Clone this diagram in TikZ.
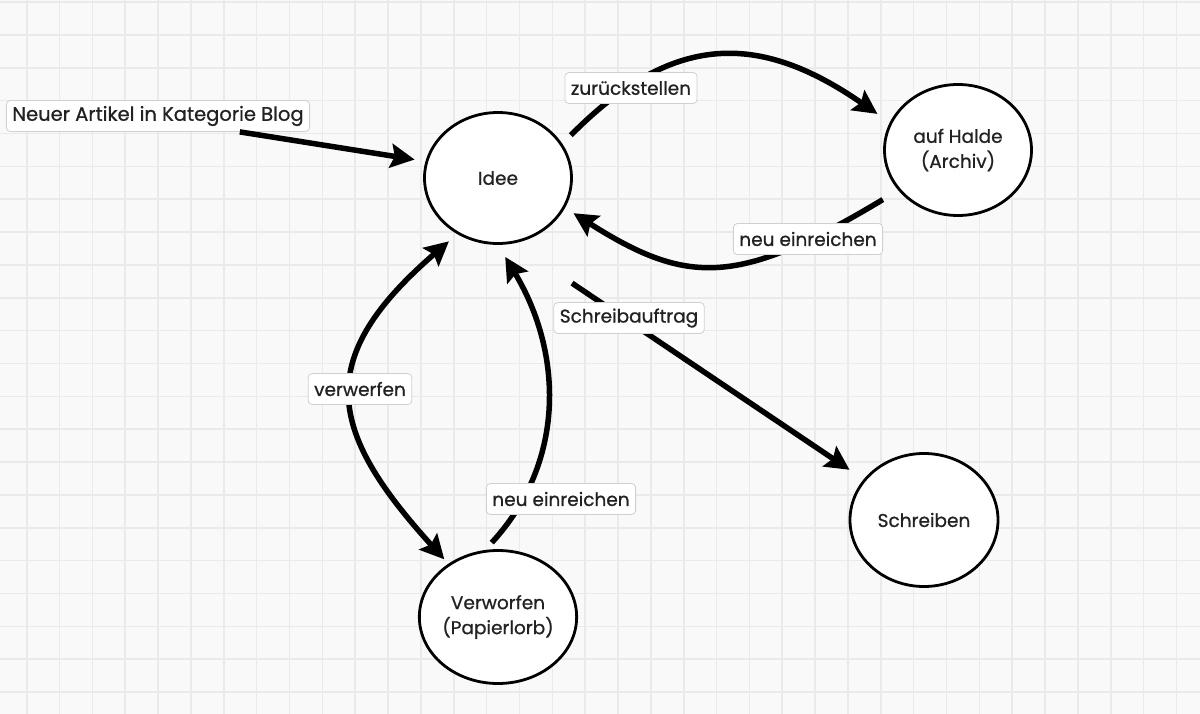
\documentclass[tikz,border=0pt]{standalone}
\usepackage{fontspec}
\setmainfont{Poppins}
\newfontface\lblfont{Poppins}[FakeBold=0.8]
\usetikzlibrary{arrows.meta,shapes.geometric}
\definecolor{bg}{HTML}{F9F9F9}
\definecolor{gridc}{HTML}{EAEAEA}
\definecolor{lblborder}{HTML}{D0D0D0}
\definecolor{txt}{HTML}{222222}
\begin{document}
\begin{tikzpicture}[x=1pt,y=-1pt,
  state/.style={ellipse, draw=black, line width=2.8pt, fill=white,
    minimum width=147pt, minimum height=131pt, inner sep=0pt, align=center,
    font=\lblfont\fontsize{18.5}{25}\selectfont, text=txt},
  lbl/.style={draw=lblborder, line width=0.8pt, fill=white, rounded corners=4pt,
    inner xsep=6pt, inner ysep=0pt, minimum height=31pt,
    font=\lblfont\fontsize{18.5}{22}\selectfont, text=txt},
  tip/.tip={Stealth[length=24pt,width=24pt,inset=4pt]},
  edge/.style={line width=5.5pt, -tip},
  biedge/.style={line width=5.5pt, tip-tip},
]
\useasboundingbox (0,0) rectangle (1200,714);
\fill[bg] (0,0) rectangle (1200,714);
\foreach \i in {0,...,35} \draw[gridc, line width=1.6pt] ({26.7+32.85*\i},0) -- ++(0,714);
\foreach \j in {0,...,21} \draw[gridc, line width=1.6pt] (0,{2.15+32.85*\j}) -- ++(1200,0);

\node[state] (idee) at (498,178) {Idee};
\node[state] (halde) at (958,150) {auf Halde\\(Archiv)};
\node[state, minimum width=148pt, minimum height=133pt] (verw) at (498,617) {Verworfen\\(Papierlorb)};
\node[state, minimum width=148pt, minimum height=133pt] (schreib) at (924,520) {Schreiben};
\node[lbl, font=\lblfont\fontsize{19.5}{22}\selectfont] (neu) at (158,116) {Neuer Artikel in Kategorie Blog};

\draw[edge, shorten >=11pt] (neu.-11.4) -- (idee.167);
\draw[edge, shorten <=12pt, shorten >=15pt] (idee.28) .. controls (673,32) and (759,32) .. (halde.158);
\draw[edge, shorten <=18pt, shorten >=10pt] (halde.214) .. controls (739,286) and (688,286) .. (idee.-24);
\draw[edge, shorten <=71pt, shorten >=17pt] (idee.-77) -- (schreib.146);
\draw[biedge, shorten <=11pt, shorten >=6pt] (idee.234) .. controls (314,358) and (326,429) .. (verw.133);
\draw[edge, shorten <=10pt, shorten >=14pt] (verw.101) .. controls (566,462) and (563,353) .. (idee.-90);

\node[lbl] (l1) at (631,88) {zurückstellen};
\node[lbl] (l2) at (808,239) {neu einreichen};
\node[lbl] (l3) at (629,318) {Schreibauftrag};
\node[lbl] (l4) at (360,389) {verwerfen};
\node[lbl] (l5) at (561,499) {neu einreichen};
\end{tikzpicture}
\end{document}
